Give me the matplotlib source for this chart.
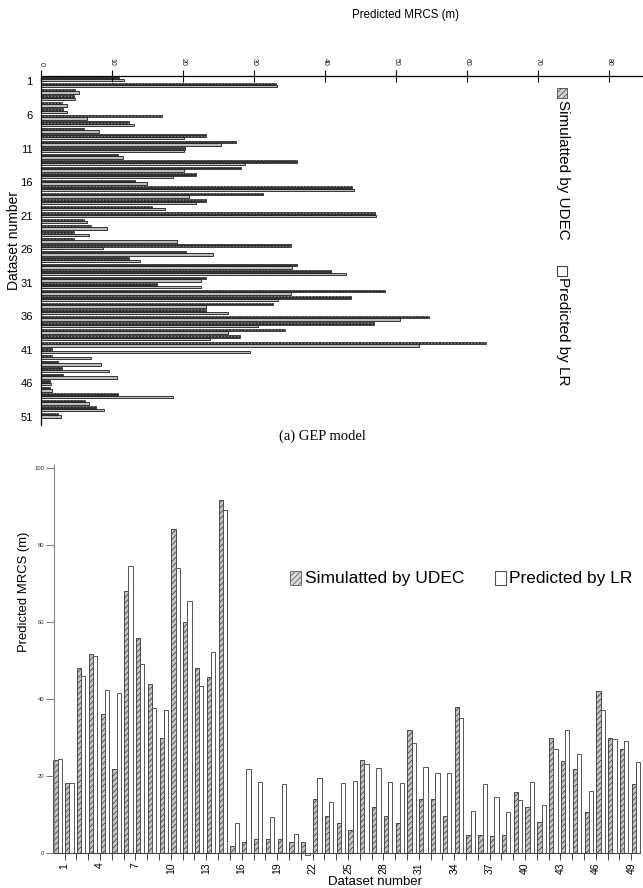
import numpy as np
import matplotlib
matplotlib.use('Agg')
import matplotlib.pyplot as plt
from matplotlib.patches import Rectangle

plt.rcParams['font.family'] = ['Liberation Sans', 'DejaVu Sans']
plt.rcParams['hatch.linewidth'] = 0.5

# ---------------- data: top panel (GEP model) ----------------
gep_udec = [11.0, 33.1, 4.8, 4.6, 3.0, 3.1, 17.1, 12.4, 6.1, 23.3, 27.4, 20.3, 10.9,
            36.1, 28.2, 21.9, 13.2, 43.8, 31.3, 23.3, 15.7, 47.0, 6.1, 7.0, 4.6, 4.6,
            35.2, 20.4, 12.4, 36.1, 40.8, 23.3, 16.4, 48.4, 43.7, 32.7, 23.3, 54.6,
            46.9, 34.4, 28.0, 62.7, 1.5, 1.6, 2.4, 3.0, 3.1, 1.3, 1.3, 10.9, 6.2, 7.8, 2.4]
gep_lr = [11.7, 33.3, 5.4, 4.8, 3.7, 3.7, 6.5, 13.1, 8.1, 20.1, 25.4, 20.1, 11.6,
          28.8, 20.2, 18.6, 15.0, 44.1, 20.8, 21.9, 17.4, 47.2, 6.5, 9.3, 6.8, 19.1,
          8.8, 24.2, 14.0, 35.3, 43.0, 22.6, 22.6, 35.2, 33.4, 23.3, 26.3, 50.6,
          30.6, 26.3, 23.8, 53.2, 29.4, 7.0, 8.5, 9.6, 10.7, 1.4, 1.6, 18.6, 6.8, 8.9, 2.8]
gep_yticklabels = ['1', '6', '11', '16', '21', '26', '31', '36', '41', '46', '51']
gep_xticks = [0, 10, 20, 30, 40, 50, 60, 70, 80]

# ---------------- data: bottom panel (LR model) ----------------
lr_udec = [24.1, 18.1, 48.1, 51.7, 36.0, 21.9, 68.0, 55.8, 43.9, 29.8,
           84.1, 60.0, 48.0, 45.7, 91.8, 1.9, 2.8, 3.7, 3.7, 3.7,
           2.8, 2.8, 13.9, 9.7, 7.8, 6.1, 24.1, 11.9, 9.7, 7.8,
           31.9, 13.9, 13.9, 9.7, 38.0, 4.8, 4.8, 4.5, 4.8, 15.8,
           11.9, 8.0, 29.8, 23.9, 21.7, 10.7, 42.0, 30.0, 27.0, 17.8]
lr_lr = [24.3, 18.1, 45.9, 51.3, 42.3, 41.5, 74.5, 49.1, 37.6, 37.2,
         74.0, 65.5, 43.3, 52.2, 89.0, 7.8, 21.7, 18.5, 9.4, 18.0,
         5.0, -0.6, 19.6, 13.3, 18.3, 18.6, 23.0, 22.2, 18.5, 18.3,
         28.5, 22.4, 20.9, 20.9, 35.0, 11.0, 18.0, 14.6, 10.7, 13.7,
         18.5, 12.6, 27.1, 31.9, 25.8, 16.1, 37.2, 29.5, 29.1, 23.7]
lr_xticklabels = [str(i) for i in range(1, 50)]
lr_yticks = [0, 20, 40, 60, 80, 100]

W, H = 643, 888
fig = plt.figure(figsize=(W / 100, H / 100), dpi=100)


def px_axes(left, top, right, bottom):
    return fig.add_axes([left / W, 1 - bottom / H, (right - left) / W, (bottom - top) / H])


def fx(x):
    return x / W


def fy(y):
    return 1 - y / H


# ================= top panel =================
ax1 = px_axes(41, 76.5, 643, 425)
pos = np.arange(1, len(gep_udec) + 1)
hb = 0.38
ax1.barh(pos - hb / 2, gep_udec, height=hb, color='#303030', edgecolor='black', linewidth=0.4)
ax1.barh(pos - hb / 2, gep_udec, height=hb, fill=False, edgecolor='#8a8a8a', linewidth=0,
         hatch='.....')
ax1.barh(pos + hb / 2, gep_lr, height=hb, color='#bdbdbd', edgecolor='#1a1a1a', linewidth=0.6)
ax1.set_xlim(0, 84.8)
ax1.set_ylim(54.5, 0.69)
for s in ['right', 'bottom']:
    ax1.spines[s].set_visible(False)
ax1.spines['top'].set_linewidth(0.9)
ax1.spines['left'].set_linewidth(0.9)
ax1.xaxis.tick_top()
ax1.set_xticks(gep_xticks)
ax1.set_xticklabels([str(v) for v in gep_xticks])
ax1.tick_params(axis='x', direction='inout', length=9, width=0.8, labelsize=5,
                labelrotation=270, pad=3, labelcolor='#111111')
ax1.set_yticks(np.linspace(1.46, 53.25, len(gep_yticklabels)))
ax1.set_yticklabels(gep_yticklabels)
ax1.tick_params(axis='y', length=0, labelsize=8, pad=6)

fig.text(fx(405), fy(15), 'Predicted MRCS (m)', ha='center', va='center', fontsize=8.3)
fig.text(fx(14), fy(240), 'Dataset number', ha='center', va='center', rotation=90,
         fontsize=10)

# top legend (rotated)
r1 = Rectangle((fx(557), fy(98)), 10 / W, 10 / H, transform=fig.transFigure,
               facecolor='#d0d0d0', edgecolor='#444444', hatch='//////', linewidth=0.6)
fig.add_artist(r1)
fig.text(fx(563), fy(100), 'Simulatted by UDEC', rotation=270, ha='center', va='top',
         fontsize=11)
r2 = Rectangle((fx(557), fy(276)), 10 / W, 10 / H, transform=fig.transFigure,
               facecolor='white', edgecolor='#444444', linewidth=0.8)
fig.add_artist(r2)
fig.text(fx(563), fy(277), 'Predicted by LR', rotation=270, ha='center', va='top',
         fontsize=11)

fig.text(fx(322), fy(436), '(a) GEP model', ha='center', va='center', fontsize=10.5,
         family=['Liberation Serif', 'DejaVu Serif'])

# ================= bottom panel =================
ax2 = px_axes(54, 465, 640, 853)
xp = np.arange(1, len(lr_udec) + 1)
bw = 0.36
ax2.bar(xp - bw / 2, lr_udec, width=bw, color='#c4c4c4', edgecolor='#333333',
        linewidth=0.6, hatch='//////', clip_on=False)
ax2.bar(xp + bw / 2, lr_lr, width=bw, color='white', edgecolor='#555555',
        linewidth=0.7, clip_on=False)
ax2.set_xlim(0.70, 50.34)
ax2.set_ylim(0, 100.8)
for s in ['right', 'top']:
    ax2.spines[s].set_visible(False)
ax2.spines['left'].set_color('#888888')
ax2.spines['bottom'].set_color('#444444')
ax2.set_xticks(np.arange(1, 50) + 0.6)
ax2.set_xticklabels([lab if (int(lab) - 1) % 3 == 0 else '' for lab in lr_xticklabels])
ax2.tick_params(axis='x', direction='out', length=5, width=0.7, labelsize=7.5,
                labelrotation=90, pad=2, color='#444444')
ax2.set_yticks(lr_yticks)
ax2.set_yticklabels([str(v) for v in lr_yticks])
ax2.tick_params(axis='y', direction='out', length=6, width=0.7, labelsize=4.2,
                pad=1, color='#777777', labelcolor='#333333')

fig.text(fx(375), fy(882), 'Dataset number', ha='center', va='center', fontsize=9.5)
fig.text(fx(24), fy(592), 'Predicted MRCS (m)', ha='center', va='center', rotation=90,
         fontsize=9.4)

# bottom legend
r3 = Rectangle((fx(290), fy(585)), 11 / W, 14 / H, transform=fig.transFigure,
               facecolor='#d8d8d8', edgecolor='#555555', hatch='//////', linewidth=0.6)
fig.add_artist(r3)
fig.text(fx(305), fy(578), 'Simulatted by UDEC', ha='left', va='center', fontsize=12.5)
r4 = Rectangle((fx(495), fy(585)), 11 / W, 14 / H, transform=fig.transFigure,
               facecolor='white', edgecolor='#555555', linewidth=0.8)
fig.add_artist(r4)
fig.text(fx(509), fy(578), 'Predicted by LR', ha='left', va='center', fontsize=12.5)

fig.savefig('out.png', dpi=100)
